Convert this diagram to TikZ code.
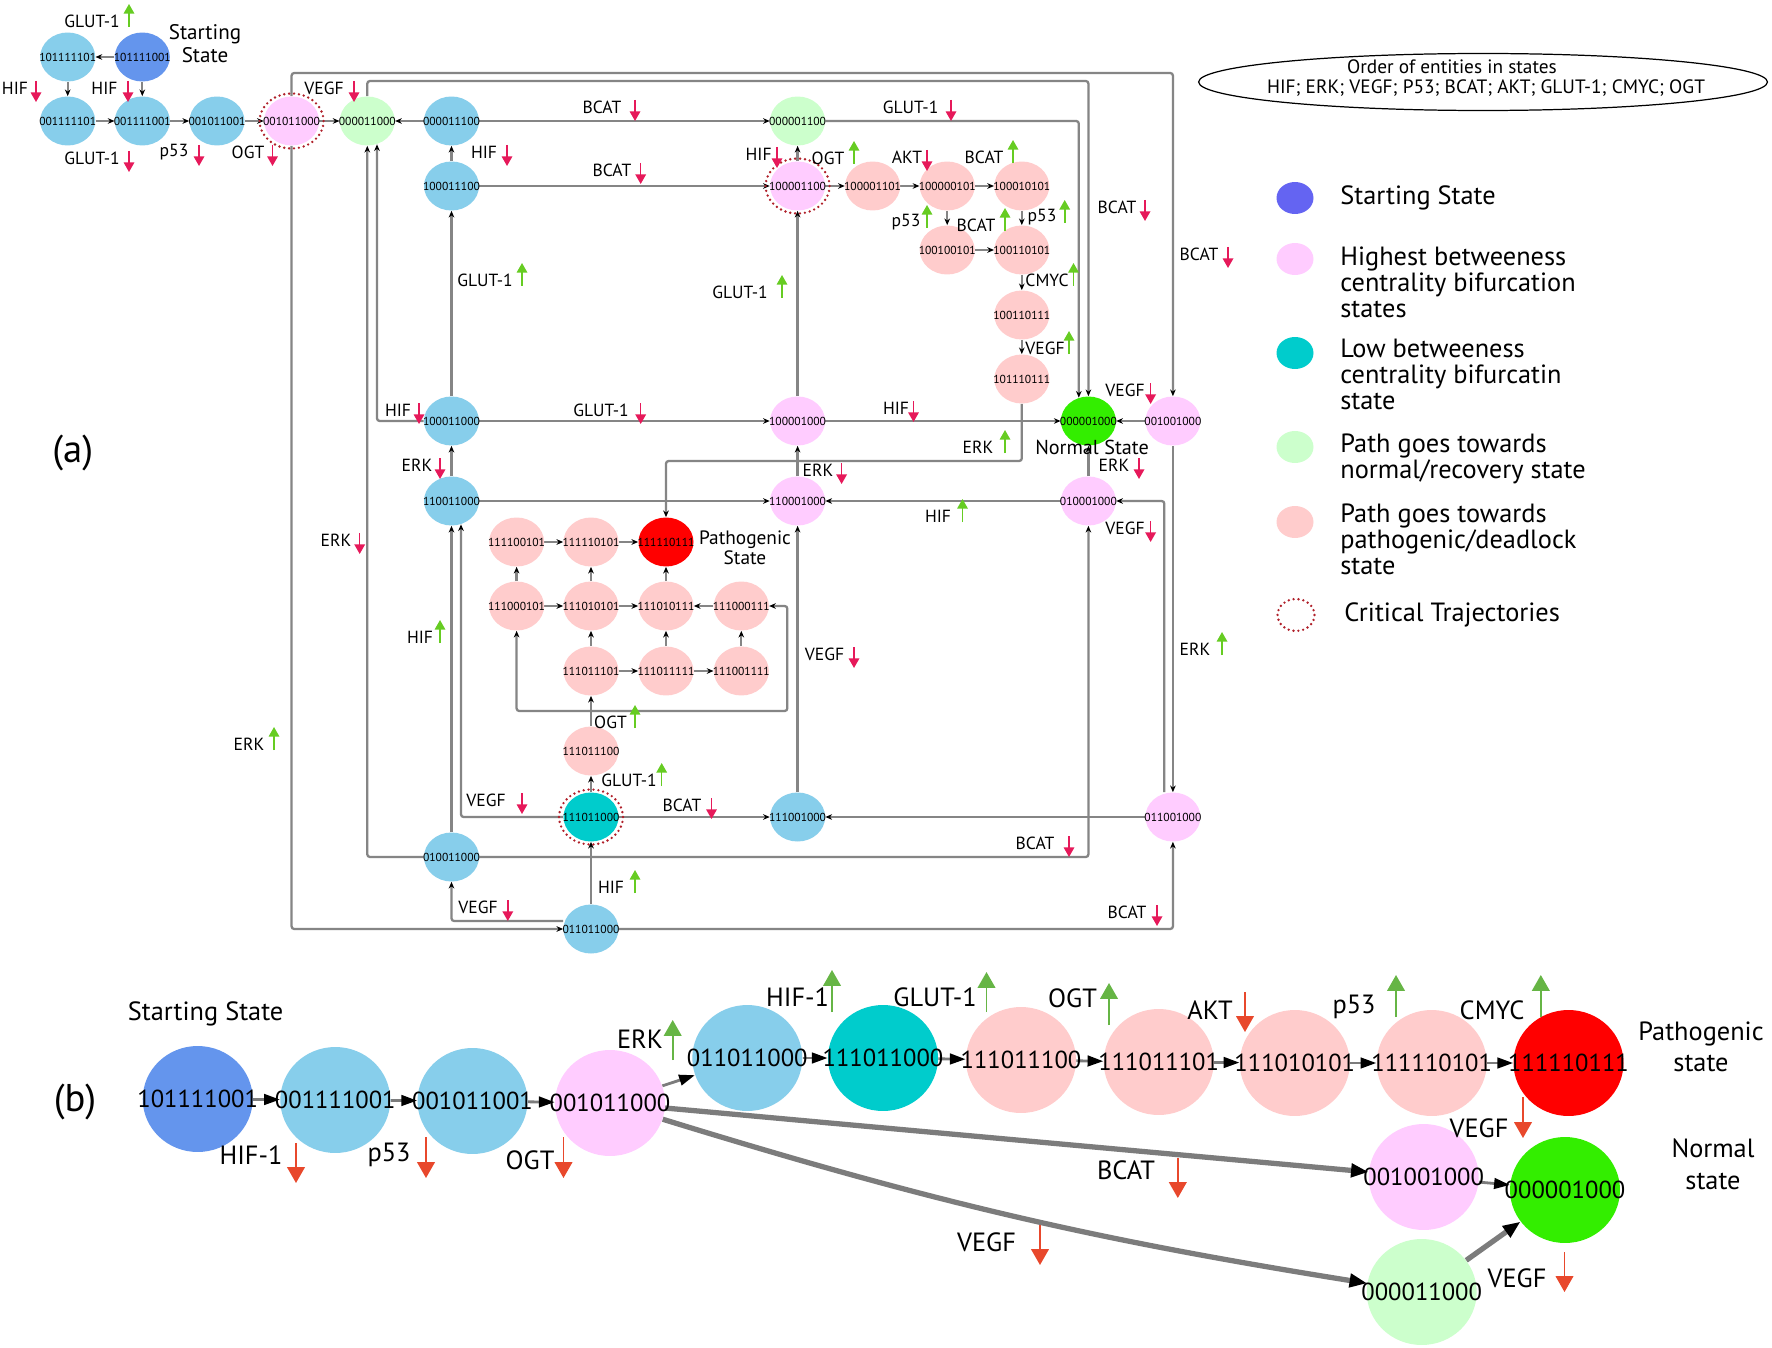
\documentclass[tikz,border=0pt]{standalone}
\usepackage{fontspec}
\setmainfont{PT Sans}
\usetikzlibrary{arrows.meta,shapes.geometric,calc}
\pgfdeclarelayer{bg}
\pgfdeclarelayer{paper}
\pgfsetlayers{paper,bg,main}
\definecolor{cLB}{HTML}{87CEEB}
\definecolor{cSB}{HTML}{6495ED}
\definecolor{cPK}{HTML}{FFCCFF}
\definecolor{cTL}{HTML}{00CCCC}
\definecolor{cLG}{HTML}{CCFFCC}
\definecolor{cLP}{HTML}{FFCCCC}
\definecolor{cRD}{HTML}{FF0000}
\definecolor{cGN}{HTML}{33EE00}
\definecolor{cCrit}{HTML}{B0202A}
\definecolor{cDnA}{HTML}{E6195A}
\definecolor{cUpA}{HTML}{66CC22}
\definecolor{cDnB}{HTML}{E8482C}
\definecolor{cUpB}{HTML}{66B545}
\definecolor{cLine}{HTML}{858585}
\definecolor{cLineB}{HTML}{7C7C7C}
\definecolor{cLegS}{HTML}{6464F2}
\tikzset{
 zerow/.style={execute at begin node={\hbox to 0pt\bgroup\hss}, execute at end node={\hss\egroup}},
 sa/.style={ellipse, minimum width=1.1cm, minimum height=0.98cm, inner sep=0pt, font=\fontsize{6.6}{7}\selectfont, zerow},
 sb/.style={ellipse, minimum width=2.2cm, minimum height=2.12cm, inner sep=0pt, font=\fontsize{14}{15}\selectfont, zerow},
 crit/.style={ellipse, draw=cCrit, line width=1.5pt, dash pattern=on 0pt off 2.8pt, line cap=round},
 ea/.style={draw=cLine, line width=1.3pt, rounded corners=1.5pt, -{Stealth[length=3.8pt,width=3.2pt,color=black]}},
 eb/.style={draw=cLineB, line width=1.6pt, -{Triangle[length=9pt,width=6pt,color=black]}},
 ebl/.style={draw=cLineB, line width=3pt, -{Triangle[length=10pt,width=7.5pt,color=black]}},
 adn/.style={draw=cDnA, line width=0.9pt, -{Triangle[length=5.5pt,width=6pt]}},
 aup/.style={draw=cUpA, line width=0.9pt, -{Triangle[length=5.5pt,width=6pt]}},
 bdn/.style={draw=cDnB, line width=1pt, -{Triangle[length=9pt,width=10pt]}},
 bup/.style={draw=cUpB, line width=1pt, -{Triangle[length=9pt,width=10pt]}},
 elab/.style={font=\fontsize{10}{11}\selectfont, inner sep=0pt},
 blab/.style={font=\fontsize{15}{16}\selectfont, inner sep=0pt},
 leg/.style={font=\fontsize{15}{14.7}\selectfont, align=left, anchor=west, inner sep=0pt},
 legc/.style={ellipse, minimum width=0.74cm, minimum height=0.64cm, inner sep=0pt},
}
\newcommand\lad[5]{\node[elab] (#1) at (#3,#4) {#2}; \draw[adn] (#5,{#4-7}) -- (#5,{#4+14});}
\newcommand\lau[5]{\node[elab] (#1) at (#3,#4) {#2}; \draw[aup] (#5,{#4+6}) -- (#5,{#4-17});}
\newcommand\lbd[7]{\node[blab] (#1) at (#3,#4) {#2}; \draw[bdn] (#5,#6) -- (#5,#7);}
\newcommand\lbu[7]{\node[blab] (#1) at (#3,#4) {#2}; \draw[bup] (#5,#6) -- (#5,#7);}
\begin{document}
\begin{tikzpicture}[x=0.02cm,y=-0.02cm]
\begin{pgfonlayer}{paper}
\fill[white] (0,0) rectangle (1772,1348);
\end{pgfonlayer}
\useasboundingbox (0,0) rectangle (1772,1348);
% ---------------- (a) nodes
\node[sa,fill=cLB] (a1) at (67.7,57) {101111101};
\node[sa,fill=cSB] (a0) at (142.3,57) {101111001};
\node[sa,fill=cLB] (a2) at (67.7,121) {001111101};
\node[sa,fill=cLB] (a3) at (142.3,121) {001111001};
\node[sa,fill=cLB] (a4) at (217,121) {001011001};
\node[sa,fill=cPK] (a5) at (291.6,121) {001011000};
\node[sa,fill=cLG] (a6) at (367.3,121) {000011000};
\node[sa,fill=cLB] (a7) at (451.5,121) {000011100};
\node[sa,fill=cLB] (a8) at (451.5,186) {100011100};
\node[sa,fill=cLG] (a9) at (797.6,121) {000001100};
\node[sa,fill=cPK] (a10) at (797.6,186) {100001100};
\node[sa,fill=cLP] (a11) at (872.6,186) {100001101};
\node[sa,fill=cLP] (a12) at (947.2,186) {100000101};
\node[sa,fill=cLP] (a13) at (1021.8,186) {100010101};
\node[sa,fill=cLP] (a14) at (947.2,250) {100100101};
\node[sa,fill=cLP] (a15) at (1021.8,250) {100110101};
\node[sa,fill=cLP] (a16) at (1021.8,315) {100110111};
\node[sa,fill=cLP] (a17) at (1021.8,379) {101110111};
\node[sa,fill=cLB] (a18) at (451.5,421) {100011000};
\node[sa,fill=cPK] (a19) at (797.6,421) {100001000};
\node[sa,fill=cGN] (a20) at (1088.4,421) {000001000};
\node[sa,fill=cPK] (a21) at (1172.9,421) {001001000};
\node[sa,fill=cLB] (a22) at (451.5,501) {110011000};
\node[sa,fill=cPK] (a23) at (797.6,501) {110001000};
\node[sa,fill=cPK] (a24) at (1088.4,501) {010001000};
\node[sa,fill=cLP] (a25) at (516.6,542) {111100101};
\node[sa,fill=cLP] (a26) at (591,542) {111110101};
\node[sa,fill=cRD] (a27) at (666,542) {111110111};
\node[sa,fill=cLP] (a37) at (516.6,606) {111000101};
\node[sa,fill=cLP] (a38) at (591,606) {111010101};
\node[sa,fill=cLP] (a39) at (666,606) {111010111};
\node[sa,fill=cLP] (a40) at (741.3,606) {111000111};
\node[sa,fill=cLP] (a34) at (591,671) {111011101};
\node[sa,fill=cLP] (a35) at (666,671) {111011111};
\node[sa,fill=cLP] (a36) at (741.3,671) {111001111};
\node[sa,fill=cLP] (a33) at (591,751) {111011100};
\node[sa,fill=cTL] (a28) at (591,817) {111011000};
\node[sa,fill=cLB] (a29) at (797.6,817) {111001000};
\node[sa,fill=cPK] (a31) at (1172.9,817) {011001000};
\node[sa,fill=cLB] (a30) at (451.5,857) {010011000};
\node[sa,fill=cLB] (a32) at (591,929) {011011000};
\node[crit,minimum width=1.28cm,minimum height=1.1cm] (c1) at (a5) {};
\node[crit,minimum width=1.28cm,minimum height=1.1cm] (c2) at (a10) {};
\node[crit,minimum width=1.28cm,minimum height=1.1cm] (c3) at (a28) {};
\coordinate (yA) at (0,73);
\coordinate (yB) at (0,81);
\coordinate (yC) at (0,461);
\coordinate (j1) at (591,711);
\coordinate (j2) at (787.3,711);
% ---------------- (a) edges
\begin{pgfonlayer}{bg}
\draw[ea] (a0) -- (a1);
\draw[ea] (a1) -- (a2);
\draw[ea] (a0) -- (a3);
\draw[ea] (a2) -- (a3);
\draw[ea] (a3) -- (a4);
\draw[ea] (a4) -- (a5);
\draw[ea] (a5) -- (a6);
\draw[ea] (a7) -- (a6);
\draw[ea] (a8) -- (a7);
\draw[ea] (a5.north) -- (a5.north |- yA) -| (a21.north);
\draw[ea] (a6.north) -- (a6.north |- yB) -| (a20.north);
\draw[ea] (a7) -- (a9);
\draw[ea] (a9.east) -| ($(a20.north)+(-9.6,1.5)$);
\draw[ea] (a8) -- (a10);
\draw[ea] (a10) -- (a9);
\draw[ea] (a10) -- (a11);
\draw[ea] (a11) -- (a12);
\draw[ea] (a12) -- (a13);
\draw[ea] (a12) -- (a14);
\draw[ea] (a13) -- (a15);
\draw[ea] (a14) -- (a15);
\draw[ea] (a15) -- (a16);
\draw[ea] (a16) -- (a17);
\draw[ea] (a17.south) -- (a17.south |- yC) -| (a27.north);
\draw[ea] (a18) -- (a8);
\draw[ea] (a18.west) -| ($(a6.south)+(9.7,-1.5)$);
\draw[ea] (a18) -- (a19);
\draw[ea] (a19) -- (a10);
\draw[ea] (a19) -- (a20);
\draw[ea] (a21) -- (a20);
\draw[ea] (a22) -- (a18);
\draw[ea] (a22) -- (a23);
\draw[ea] (a23) -- (a19);
\draw[ea] (a24) -- (a23);
\draw[ea] (a24) -- (a20);
\draw[ea] (a21) -- (a31);
\draw[ea] ($(a31.north)+(-8.6,0)$) |- (a24.east);
\draw[ea] (a31) -- (a29);
\draw[ea] (a29) -- (a23);
\draw[ea] (a28) -- (a29);
\draw[ea] (a28.west) -| ($(a22.south)+(9.5,-1.5)$);
\draw[ea] (a30) -- (a22);
\draw[ea] (a30.west) -| (a6.south);
\draw[ea] (a30.east) -| (a24.south);
\draw[ea] (a32) -- (a28);
\draw[ea] ($(a32.west)+(0,-8)$) -| (a30.south);
\draw[ea] (a5.south) |- (a32.west);
\draw[ea] (a32.east) -| (a31.south);
\draw[ea] (a28) -- (a33);
\draw[ea] (a33) -- (a34);
\draw[ea] (j1) -| (a37.south);
\draw[ea] (j1) -- (j2) |- (a40.east);
\draw[ea] (a34) -- (a35);
\draw[ea] (a35) -- (a36);
\draw[ea] (a34) -- (a38);
\draw[ea] (a35) -- (a39);
\draw[ea] (a36) -- (a40);
\draw[ea] (a37) -- (a38);
\draw[ea] (a38) -- (a39);
\draw[ea] (a40) -- (a39);
\draw[ea] (a37) -- (a25);
\draw[ea] (a38) -- (a26);
\draw[ea] (a39) -- (a27);
\draw[ea] (a25) -- (a26);
\draw[ea] (a26) -- (a27);
\end{pgfonlayer}
% ---------------- (a) texts
\node[font=\fontsize{12}{13}\selectfont, align=center, inner sep=0pt] (tss) at (205,43.5) {Starting\\State};
\node[font=\fontsize{11}{11.5}\selectfont, align=center, inner sep=0pt] (tps) at (745,548) {Pathogenic\\State};
\node[font=\fontsize{11.5}{12}\selectfont, inner sep=0pt] (tns) at (1092,447) {Normal State};
\node[font=\fontsize{22}{24}\selectfont, inner sep=0pt] (ta) at (72.7,453) {(a)};
\lau{lA1}{GLUT-1}{92}{21}{129}
\lad{lA2}{HIF}{15}{88}{36}
\lad{lA3}{HIF}{104.5}{88}{128}
\lad{lA4}{GLUT-1}{92}{158}{129}
\lad{lA5}{p53}{174}{152}{199}
\lad{lA6}{OGT}{248}{152}{272.5}
\lad{lA7}{VEGF}{324}{88}{354}
\lad{lA8}{HIF}{484}{152}{507}
\lau{lA9}{GLUT-1}{485}{280}{522}
\lad{lA10}{BCAT}{602}{107}{635}
\lad{lA11}{GLUT-1}{910.6}{107}{951}
\lad{lA12}{HIF}{758.6}{154}{777}
\lau{lA13}{OGT}{828}{158}{854}
\lad{lA14}{AKT}{907}{157}{927}
\lau{lA15}{BCAT}{984}{157}{1013}
\lad{lA16}{BCAT}{612}{170}{640.7}
\lau{lA17}{p53}{906}{222}{927}
\lau{lA18}{BCAT}{976}{225}{1005}
\lau{lA19}{p53}{1042}{217}{1064.7}
\lau{lA20}{CMYC}{1047}{280}{1073.5}
\lad{lA21}{BCAT}{1117}{207}{1145}
\lad{lA22}{BCAT}{1199}{254}{1228}
\lad{lA23}{GLUT-1}{601}{410}{640.7}
\lad{lA24}{HIF}{896}{408}{913.5}
\lau{lA25}{ERK}{978}{447}{1005}
\lad{lA26}{ERK}{818}{470}{841.6}
\lau{lA27}{GLUT-1}{740}{292}{782}
\lad{lA28}{ERK}{1114}{465}{1139}
\lad{lA29}{VEGF}{1125}{390}{1150.6}
\lad{lA30}{VEGF}{1125}{528}{1150.6}
\lad{lA31}{HIF}{398}{410}{419}
\lad{lA32}{ERK}{417}{465}{440}
\lad{lA33}{ERK}{336}{540}{359.7}
\lau{lA34}{HIF}{420}{637}{440}
\lad{lA35}{VEGF}{486}{800}{522}
\lad{lA36}{VEGF}{478}{907}{507.8}
\lau{lA37}{ERK}{249}{744}{274}
\lad{lA38}{BCAT}{682}{805}{711.5}
\lau{lA39}{OGT}{610.5}{722}{635}
\lad{lA40}{VEGF}{824.6}{654}{854}
\lad{lA41}{BCAT}{1035}{843}{1069}
\lad{lA42}{BCAT}{1127}{912}{1157}
\lau{lA43}{HIF}{611}{887}{635}
\lau{lA44}{ERK}{1195}{649}{1222}
\lau{lA45}{VEGF}{1045}{348}{1069}
\lau{lA46}{HIF}{938}{516}{962.5}
\lau{lA47}{GLUT-1}{629}{780}{661.7}
% ---------------- legend
\node[draw, ellipse, line width=0.7pt, minimum width=11.38cm, minimum height=1.14cm] (ord) at (1483,82) {};
\node[font=\fontsize{11}{12}\selectfont, inner sep=0pt] (o1) at (1452,67) {Order of entities in states};
\node[font=\fontsize{11}{12}\selectfont, inner sep=0pt] (o2) at (1486,88) {HIF; ERK; VEGF; P53; BCAT; AKT; GLUT-1; CMYC; OGT};
\node[legc,fill=cLegS] (g1) at (1295,198) {};
\node[legc,fill=cPK] (g2) at (1295,259) {};
\node[legc,fill=cTL] (g3) at (1295,353) {};
\node[legc,fill=cLG] (g4) at (1295,447) {};
\node[legc,fill=cLP] (g5) at (1295,522) {};
\node[legc,crit,minimum width=0.74cm,minimum height=0.64cm] (g6) at (1296,615) {};
\node[leg] (t1) at (1340,198) {Starting State};
\node[leg] (t2) at (1340,282.5) {Highest betweeness\\centrality bifurcation\\states};
\node[leg] (t3) at (1340,374.5) {Low betweeness\\centrality bifurcatin\\state};
\node[leg] (t4) at (1340,458.5) {Path goes towards\\normal/recovery state};
\node[leg] (t5) at (1340,539.5) {Path goes towards\\pathogenic/deadlock\\state};
\node[leg] (t6) at (1344,615) {Critical Trajectories};
% ---------------- (b)
\node[sb,fill=cSB] (n1) at (197.7,1099) {101111001};
\node[sb,fill=cLB] (n2) at (335.3,1100) {001111001};
\node[sb,fill=cLB] (n3) at (472.5,1101) {001011001};
\node[sb,fill=cPK] (n4) at (610,1103) {001011000};
\node[sb,fill=cLB] (n5) at (747.3,1058) {011011000};
\node[sb,fill=cTL] (n6) at (883,1058) {111011000};
\node[sb,fill=cLP] (n7) at (1021,1060) {111011100};
\node[sb,fill=cLP] (n8) at (1158.7,1062) {111011101};
\node[sb,fill=cLP] (n9) at (1294.8,1063) {111010101};
\node[sb,fill=cLP] (n10) at (1431.7,1063) {111110101};
\node[sb,fill=cRD] (n11) at (1568.5,1063) {111110111};
\node[sb,fill=cPK] (n12) at (1423.7,1177) {001001000};
\node[sb,fill=cGN] (n13) at (1565,1190) {000001000};
\node[sb,fill=cLG] (n14) at (1421.7,1292) {000011000};
\begin{pgfonlayer}{bg}
\draw[eb] (n1) -- (n2);
\draw[eb] (n2) -- (n3);
\draw[eb] (n3) -- (n4);
\draw[eb] (n4) -- (n5);
\draw[eb] (n5) -- (n6);
\draw[eb] (n6) -- (n7);
\draw[eb] (n7) -- (n8);
\draw[eb] (n8) -- (n9);
\draw[eb] (n9) -- (n10);
\draw[eb] (n10) -- (n11);
\draw[eb] (n12) -- (n13);
\draw[ebl] (n14) -- (n13);
\draw[ebl] (n4) -- (n12);
\draw[ebl] (n4) to[bend right=4] (n14);
\end{pgfonlayer}
\node[blab] (bss) at (205.6,1014) {Starting State};
\node[blab, align=center, font=\fontsize{15}{17.6}\selectfont] (bps) at (1701,1047) {Pathogenic\\state};
\node[blab, align=center, font=\fontsize{15}{18}\selectfont] (bns) at (1713,1164) {Normal\\state};
\node[font=\fontsize{22}{24}\selectfont, inner sep=0pt] (tb) at (75,1102) {(b)};
\lbd{lb1}{HIF-1}{251}{1155}{296}{1143}{1183}
\lbd{lb2}{p53}{389}{1155}{426}{1137}{1178}
\lbd{lb3}{OGT}{530}{1160}{563.5}{1137}{1178}
\lbd{lb4}{AKT}{1210}{1010}{1245}{992}{1032}
\lbd{lb5}{BCAT}{1126}{1170}{1177.8}{1158}{1198}
\lbd{lb6}{VEGF}{986.5}{1242}{1040}{1225}{1265}
\lbd{lb7}{VEGF}{1479}{1128}{1523}{1097}{1138}
\lbd{lb8}{VEGF}{1517}{1278}{1564.5}{1252}{1292}
\lbu{lb9}{ERK}{640}{1039}{672.7}{1060}{1020}
\lbu{lb10}{HIF-1}{797.6}{997}{832}{1012}{970}
\lbu{lb11}{GLUT-1}{935}{997}{986.5}{1012}{972}
\lbu{lb12}{OGT}{1072.5}{998}{1109}{1025}{983}
\lbu{lb13}{p53}{1354}{1007}{1396}{1017}{975}
\lbu{lb14}{CMYC}{1492}{1010}{1540.8}{1017}{975}
\end{tikzpicture}
\end{document}
